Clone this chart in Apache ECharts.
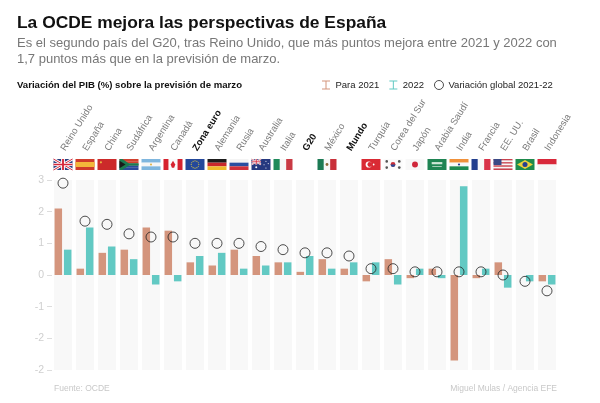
<!DOCTYPE html>
<html><head><meta charset="utf-8">
<script src="https://cdn.jsdelivr.net/npm/echarts@6/dist/echarts.min.js"></script>
<style>html,body{margin:0;padding:0;background:#fff}#c{width:600px;height:403px}</style>
</head><body><div id="c"></div>
<script>
const categories = ['Reino Unido','España','China','Sudáfrica','Argentina','Canadá','Zona euro','Alemania','Rusia','Australia','Italia','G20','México','Mundo','Turquía','Corea del Sur','Japón','Arabia Saudí','India','Francia','EE. UU.','Brasil','Indonesia'];
const boldCategories = ['Zona euro','G20','Mundo'];
const flagCodes = ['gb','es','cn','za','ar','ca','eu','de','ru','au','it','','mx','','tr','kr','jp','sa','in','fr','us','br','id'];
const para2021 = [2.1,0.2,0.7,0.8,1.5,1.4,0.4,0.3,0.8,0.6,0.4,0.1,0.5,0.2,-0.2,0.5,-0.1,0.2,-2.7,-0.1,0.4,0,-0.2];
const para2022 = [0.8,1.5,0.9,0.5,-0.3,-0.2,0.6,0.7,0.2,0.3,0.4,0.6,0.2,0.4,0.4,-0.3,0.2,-0.1,2.8,0.2,-0.4,-0.2,-0.3];
const variacionGlobal = [2.9,1.7,1.6,1.3,1.2,1.2,1.0,1.0,1.0,0.9,0.8,0.7,0.7,0.6,0.2,0.2,0.1,0.1,0.1,0.1,0,-0.2,-0.5];
const yTicks = {'3':'3','2':'2','1':'1','0':'0','-1':'-1','-2':'-2','-3':'-2'};

const SANS = '"Liberation Sans",Arial,sans-serif';

function flagShapes(code, x, y, w, h) {
  const out = [];
  const R = (a,b,c,d,fill)=>out.push({type:'rect',shape:{x:x+a*w,y:y+b*h,width:c*w,height:d*h},style:{fill}});
  const C = (a,b,r,fill)=>out.push({type:'circle',shape:{cx:x+a*w,cy:y+b*h,r:r*h},style:{fill}});
  const P = (pts,fill)=>out.push({type:'polygon',shape:{points:pts.map(p=>[x+p[0]*w,y+p[1]*h])},style:{fill}});
  const L = (a,b,c,d,stroke,lw)=>out.push({type:'line',shape:{x1:x+a*w,y1:y+b*h,x2:x+c*w,y2:y+d*h},style:{stroke,lineWidth:lw}});
  const H = (cols)=>cols.forEach((col,i)=>R(0,i/cols.length,1,1/cols.length,col));
  const V = (cols)=>cols.forEach((col,i)=>R(i/cols.length,0,1/cols.length,1,col));
  const uk = (sx,sy)=>{
    R(0,0,sx,sy,'#2b3f7e');
    L(0,0,sx,sy,'#fff',2*sx+.6);L(sx,0,0,sy,'#fff',2*sx+.6);
    L(0,0,sx,sy,'#d5283c',sx);L(sx,0,0,sy,'#d5283c',sx);
    R(0,sy*.36,sx,sy*.28,'#fff');R(sx*.4,0,sx*.2,sy,'#fff');
    R(0,sy*.43,sx,sy*.14,'#d5283c');R(sx*.45,0,sx*.1,sy,'#d5283c');
  };
  switch(code){
    case 'gb':uk(1,1);break;
    case 'es':R(0,0,1,1,'#d03a2a');R(0,.27,1,.46,'#f3b73a');break;
    case 'cn':R(0,0,1,1,'#cc2a2a');C(.18,.3,.1,'#e8b040');break;
    case 'za':H(['#d0402e','#d0402e','#1c6f4a','#2b4a9a','#2b4a9a']);P([[0,0],[.15,0],[.5,.4],[1,.4],[1,.6],[.5,.6],[.15,1],[0,1]],'#1c7a50');P([[0,.15],[.32,.5],[0,.85]],'#1a1a1a');break;
    case 'ar':H(['#7fb6de','#f6f6f6','#7fb6de']);C(.5,.5,.09,'#e0b040');break;
    case 'ca':R(0,0,1,1,'#fafafa');R(0,0,.26,1,'#d6232f');R(.74,0,.26,1,'#d6232f');P([[.5,.15],[.62,.5],[.56,.8],[.44,.8],[.38,.5]],'#d6232f');break;
    case 'eu':{R(0,0,1,1,'#24489a');for(let i=0;i<12;i++){const t=i*Math.PI/6;C(.5+.2*Math.cos(t),.5+.33*Math.sin(t),.05,'#e8cf3c');}break;}
    case 'de':H(['#1c1c1c','#c8282c','#eebb2c']);break;
    case 'ru':H(['#f4f4f4','#2a4ea0','#d0303a']);break;
    case 'au':R(0,0,1,1,'#26397f');uk(.5,.5);C(.25,.76,.09,'#fff');C(.76,.2,.05,'#fff');C(.88,.42,.05,'#fff');C(.66,.52,.05,'#fff');C(.76,.82,.05,'#fff');break;
    case 'it':V(['#1f8a5a','#f7f7f7','#c93a44']);break;
    case 'mx':V(['#1c7a54','#f7f7f7','#c9303a']);C(.5,.5,.13,'#8a6a3a');break;
    case 'tr':R(0,0,1,1,'#d92a34');C(.38,.5,.28,'#fff');C(.44,.5,.22,'#d92a34');C(.64,.5,.08,'#fff');break;
    case 'kr':R(0,0,1,1,'#fbfbfb');C(.5,.5,.22,'#c9303a');out.push({type:'sector',shape:{cx:x+.5*w,cy:y+.5*h,r:.22*h,startAngle:0,endAngle:Math.PI},style:{fill:'#274a96'}});[[.17,.22],[.83,.22],[.17,.78],[.83,.78]].forEach(p=>C(p[0],p[1],.12,'#555'));break;
    case 'jp':R(0,0,1,1,'#f8f8f8');C(.5,.5,.27,'#d0283c');break;
    case 'sa':R(0,0,1,1,'#1f8453');R(.22,.28,.56,.2,'#cfe6d8');R(.25,.64,.5,.06,'#e6f2ea');break;
    case 'in':H(['#f0913a','#f8f8f8','#1f8a50']);C(.5,.5,.1,'#2a3f8f');break;
    case 'fr':V(['#233f8e','#f8f8f8','#d9344a']);break;
    case 'us':{for(let i=0;i<7;i++)R(0,i/7,1,1/7,i%2?'#f6f6f6':'#c8424e');R(0,0,.42,.55,'#3a4a86');break;}
    case 'br':R(0,0,1,1,'#1f8a4c');P([[.5,.1],[.92,.5],[.5,.9],[.08,.5]],'#eed03c');C(.5,.5,.23,'#27408f');break;
    case 'id':R(0,0,1,.5,'#d8283a');R(0,.5,1,.5,'#f6f6f6');break;
  }
  return out;
}

const idx = categories.map((_, i) => [i, 3]);
const labelRich = {
  n:{color:'#7a7a7a',fontFamily:SANS,fontSize:9.5},
  b:{color:'#111',fontFamily:SANS,fontSize:9.5,fontWeight:'bold'}
};
const chart = echarts.init(document.getElementById('c'),null,{renderer:'canvas'});
chart.setOption({
  animation:false,
  backgroundColor:'#fff',
  title:[
    {text:'La OCDE mejora las perspectivas de España',left:17,top:15,padding:0,textStyle:{fontFamily:SANS,fontSize:17.4,fontWeight:'bold',color:'#111'}},
    {text:'Es el segundo país del G20, tras Reino Unido, que más puntos mejora entre 2021 y 2022 con\n1,7 puntos más que en la previsión de marzo.',left:17,top:36,padding:0,textStyle:{fontFamily:SANS,fontSize:13,fontWeight:'normal',color:'#777',lineHeight:15.5}},
    {text:'Variación del PIB (%) sobre la previsión de marzo',left:17,top:80,padding:0,textStyle:{fontFamily:SANS,fontSize:9.6,fontWeight:'bold',color:'#111'}},
    {text:'Fuente: OCDE',left:54,top:384,padding:0,textStyle:{fontFamily:SANS,fontSize:8.5,fontWeight:'normal',color:'#c8c8c8'}},
    {text:'Miguel Mulas / Agencia EFE',right:43,top:384,padding:0,textStyle:{fontFamily:SANS,fontSize:8.5,fontWeight:'normal',color:'#c8c8c8'}}
  ],
  legend:{
    left:322,top:80,padding:0,itemGap:10,itemWidth:9,itemHeight:9,
    data:[
      {name:'Para 2021',icon:'path://M0 0H8V1H4.5V8H8V9H0V8H3.5V1H0Z'},
      {name:'2022',icon:'path://M0 0H8V1H4.5V8H8V9H0V8H3.5V1H0Z'},
      {name:'Variación global 2021-22',icon:'circle',itemStyle:{color:'#fff',borderColor:'#222',borderWidth:1}}
    ],
    textStyle:{fontFamily:SANS,fontSize:9.5,color:'#222'}
  },
  grid:{left:52,right:42,top:180,bottom:33},
  xAxis:{
    type:'category',position:'top',data:categories,
    axisLine:{show:false,onZero:false},axisTick:{show:false},
    axisLabel:{interval:0,rotate:-58,margin:30,hideOverlap:false,
      formatter:v=>boldCategories.includes(v)?`{b|${v}}`:`{n|${v}}`,rich:labelRich}
  },
  yAxis:{
    type:'value',min:-3,max:3,interval:1,splitLine:{show:false},axisLine:{show:false},
    axisTick:{show:true,length:5,lineStyle:{color:'#ddd'}},
    axisLabel:{margin:8,fontFamily:SANS,fontSize:10.5,
      color:v=>v===0?'#555':'#cfcfcf',formatter:v=>yTicks[String(v)]}
  },
  series:[
    {type:'custom',silent:true,z:0,data:idx,encode:{x:0,y:1},legendHoverLink:false,
      renderItem(p,api){
        const t=api.coord([api.value(0),3]),b=api.coord([api.value(0),-3]);
        return {type:'rect',shape:{x:t[0]-9,y:t[1],width:18,height:b[1]-t[1]},style:{fill:'#f8f8f8'}};
      }},
    {type:'custom',silent:true,z:1,clip:false,data:idx,encode:{x:0,y:1},
      renderItem(p,api){
        const i=api.value(0),t=api.coord([i,3]);
        return {type:'group',children:flagShapes(flagCodes[i],t[0]-9.5,t[1]-21,19,11)};
      }},
    {name:'Para 2021',type:'bar',z:2,data:para2021,barWidth:7.5,barGap:'25%',itemStyle:{color:'#d4957d'}},
    {name:'2022',type:'bar',z:2,data:para2022,barWidth:7.5,barGap:'25%',itemStyle:{color:'#62c9c3'}},
    {name:'Variación global 2021-22',type:'scatter',z:3,data:variacionGlobal,symbol:'circle',symbolSize:10,
      itemStyle:{color:'rgba(255,255,255,0)',borderColor:'#222',borderWidth:1}}
  ]
});
</script></body></html>
